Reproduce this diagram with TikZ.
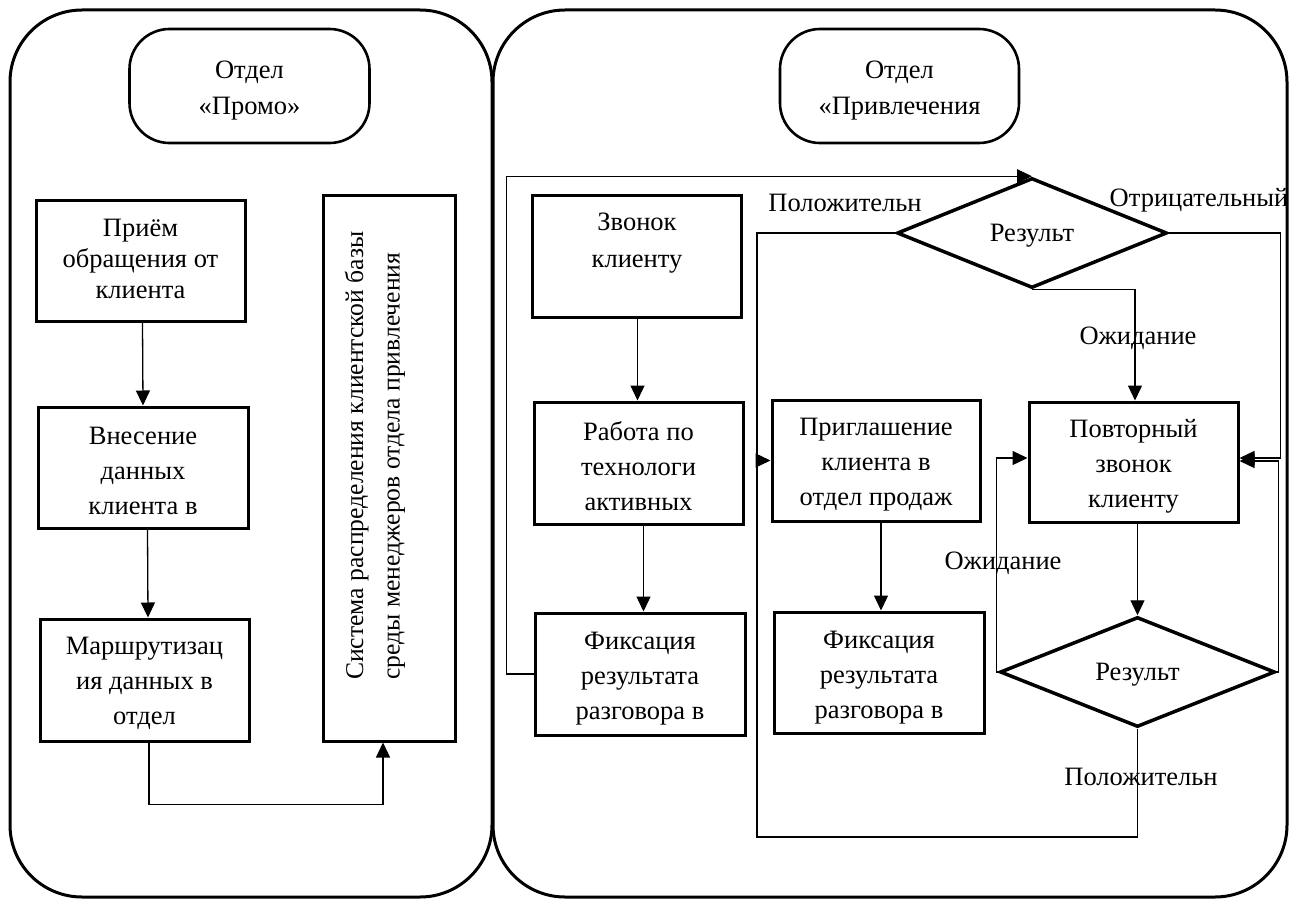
\documentclass[tikz,border=0pt]{standalone}
\usepackage{fontspec}
\setmainfont{Liberation Serif}
\usetikzlibrary{arrows.meta,shapes.geometric,calc}

\begin{document}
\begin{tikzpicture}[x=1pt,y=-1pt,
  every node/.style={font=\fontsize{26.5}{35}\selectfont, inner sep=0pt},
  panel/.style={draw, line width=3pt, rounded corners=72pt},
  header/.style={draw, line width=2.6pt, rounded corners=40pt, minimum width=240pt, minimum height=114pt},
  procbox/.style={draw, line width=3pt},
  boxtext/.style={align=center},
  decision/.style={draw, diamond, aspect=2.45, line width=3.5pt, inner sep=0pt, text depth=0pt},
  link/.style={line width=1.3pt},
  arr/.style={link, -{Triangle[length=15pt,width=14pt]}}
]
\useasboundingbox (0,0) rectangle (1291,899);

% the two department panels
\draw[panel] (10,10) rectangle (492,897);
\draw[panel] (493,10) rectangle (1287,897);

% department titles
\node[header] (hdrL) at (249.5,86) {};
\node[boxtext, font=\fontsize{26.5}{36}\selectfont] (hdrLt) at ([yshift=-5pt]hdrL.center) {Отдел\\«Промо»};
\node[header, minimum width=239pt] (hdrR) at (899.5,86) {};
\node[boxtext, font=\fontsize{26.5}{36}\selectfont] (hdrRt) at ([yshift=-5pt]hdrR.center) {Отдел\\«Привлечения};

% promo department
\node[procbox, minimum width=209pt, minimum height=121pt] (b1) at (140.5,260.5) {};
\node[boxtext, font=\fontsize{26.5}{31}\selectfont] (b1t) at ([yshift=2pt]b1.center) {Приём\\обращения от\\клиента};
\node[procbox, minimum width=210pt, minimum height=121pt] (b2) at (143,467.5) {};
\node[boxtext] (b2t) at ([yshift=-3pt]b2.center) {Внесение\\данных\\клиента в};
\node[procbox, minimum width=209pt, minimum height=122pt] (b3) at (144.5,680) {};
\node[boxtext] (b3t) at ([yshift=-3pt]b3.center) {Маршрутизац\\ия данных в\\отдел};
\node[procbox, minimum width=132pt, minimum height=546pt] (vbox) at (389,468) {};
\node[rotate=90, align=left, anchor=west, font=\fontsize{25.6}{36.5}\selectfont] (vtext) at (375,680)
  {Система распределения клиентской базы\\среды менеджеров отдела привлечения};

% acquisition department
\node[procbox, minimum width=209pt, minimum height=122pt] (zvon) at (636.5,256) {};
\node[boxtext, font=\fontsize{26.5}{37}\selectfont] (zvont) at (637,243) {Звонок\\клиенту};
\node[procbox, minimum width=209pt, minimum height=122pt] (rab) at (638.5,463) {};
\node[boxtext] (rabt) at ([yshift=-3pt]rab.center) {Работа по\\технологи\\активных};
\node[procbox, minimum width=210pt, minimum height=122pt] (fix1) at (640,674) {};
\node[boxtext] (fix1t) at ([yshift=-5pt]fix1.center) {Фиксация\\результата\\разговора в};
\node[procbox, minimum width=208pt, minimum height=121pt] (prig) at (876,460.5) {};
\node[boxtext] (prigt) at ([yshift=-4pt]prig.center) {Приглашение\\клиента в\\отдел продаж};
\node[procbox, minimum width=210pt, minimum height=121pt] (fix2) at (879,672.5) {};
\node[boxtext] (fix2t) at ([yshift=-5pt]fix2.center) {Фиксация\\результата\\разговора в};
\node[procbox, minimum width=209pt, minimum height=120pt] (povt) at (1133.5,462) {};
\node[boxtext] (povtt) at ([yshift=-4pt]povt.center) {Повторный\\звонок\\клиенту};
\node[decision, minimum width=270pt, minimum height=110pt] (dtop) at (1032,233) {Результ};
\node[decision, minimum width=275pt, minimum height=110pt] (dbot) at (1137.5,672) {Результ};

% branch labels
\node (lpos1) at (845,203) {Положительн};
\node (lneg) at (1199,200) {Отрицательный};
\node (lwait1) at (1138,338) {Ожидание};
\node (lwait2) at (1003,563) {Ожидание};
\node (lpos2) at (1141,777) {Положительн};

% promo flow
\draw[arr] ([xshift=2pt]b1.south) -- (b2.north);
\draw[arr] ([xshift=4.5pt]b2.south) -- ([xshift=3.5pt]b3.north);
\draw[arr] ([xshift=4.5pt]b3.south) -- ++(0,62) -| ([xshift=-6pt]vbox.south);

% acquisition flow
\coordinate (loopbl) at (757,837);
\draw[arr] ([xshift=1pt]zvon.south) -- ([xshift=-1pt]rab.north);
\draw[arr] ([xshift=5pt]rab.south) -- ([xshift=3.5pt]fix1.north);
\draw[arr] ([xshift=5pt]prig.south) -- ([xshift=2pt]fix2.north);
\draw[arr] (fix1.west) -- ++(-27,0) |- (dtop.north);
\draw[arr] (dtop.west) -| (loopbl |- prig.west) -- (prig.west);
\draw[link] (dbot.south) |- (loopbl) -- (loopbl |- prig.west);
\draw[arr] (dtop.south) -| ([xshift=1.5pt]povt.north);
\draw[arr] (dtop.east) -- ++(112,0) |- ([yshift=4pt]povt.east);
\draw[arr] (dbot.east) -- ++(2,0) |- ([yshift=1pt]povt.east);
\draw[arr] (dbot.west) -- ++(-2,0) |- ([yshift=4pt]povt.west);
\draw[arr] ([xshift=4pt]povt.south) -- (dbot.north);
\end{tikzpicture}
\end{document}
